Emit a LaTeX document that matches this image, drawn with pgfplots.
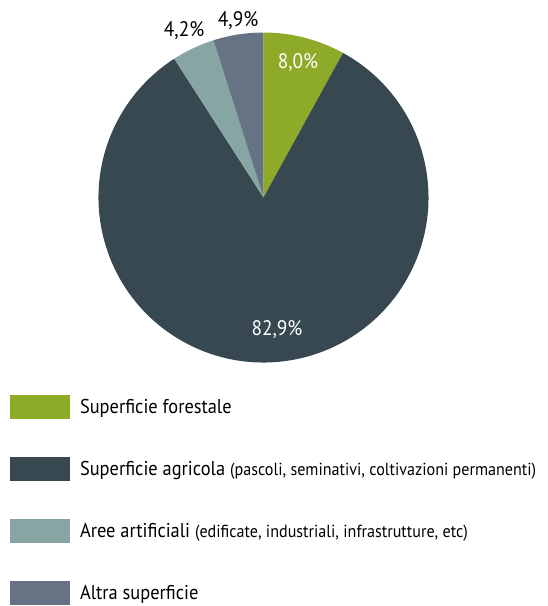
\documentclass[border=0pt]{standalone}
\usepackage{pgfplots}
\pgfplotsset{compat=1.18}
\usepackage{fontspec}
\setmainfont{PT Sans}[FakeStretch=0.92]

\definecolor{forest}{RGB}{141,170,40}
\definecolor{agri}{RGB}{55,72,80}
\definecolor{artif}{RGB}{134,165,163}
\definecolor{altra}{RGB}{102,115,133}

\newcommand{\bigf}{\fontsize{20}{24}\selectfont}
\newcommand{\pctf}{\fontsize{21}{24}\selectfont}
\newcommand{\smf}{\fontsize{17.5}{20}\selectfont}

\begin{document}
\begin{tikzpicture}
\useasboundingbox (-98.5pt,-243.5pt) rectangle (449.5pt,362.5pt);
\begin{axis}[
  scale only axis,
  width=330pt, height=330pt,
  xmin=-1, xmax=1, ymin=-1, ymax=1,
  hide axis, clip=false,
  data cs=polar,
  legend image code/.code={\fill[#1] (0pt,-12pt) rectangle (60pt,12pt);},
  legend cell align=left,
  legend style={draw=none, fill=none, inner sep=0pt, outer sep=0pt,
    at={(-0.268,-0.0985)}, anchor=north west,
    row sep=38pt, column sep=10pt,
    font=\bigf, nodes={inner sep=0pt}},
]
% shares (%): 8.0, 82.9, 4.2, 4.9 -> angles = share * 3.6, clockwise from 90
\addplot[fill=forest, draw=none] coordinates {(0,0) (90,1)}
  arc[start angle=90, delta angle=-28.8, radius=165pt] -- cycle;
\addplot[fill=agri, draw=none] coordinates {(0,0) (61.2,1)}
  arc[start angle=61.2, delta angle=-298.44, radius=165pt] -- cycle;
\addplot[fill=artif, draw=none] coordinates {(0,0) (122.76,1)}
  arc[start angle=122.76, delta angle=-15.12, radius=165pt] -- cycle;
\addplot[fill=altra, draw=none] coordinates {(0,0) (107.64,1)}
  arc[start angle=107.64, delta angle=-17.64, radius=165pt] -- cycle;

\addplot[forget plot, draw=none, mark=none, nodes near coords,
  point meta=explicit symbolic,
  every node near coord/.append style={anchor=center, text=white, font=\pctf}]
  coordinates {(75.7,0.847) [8{,}0\%] (275.8,0.807) [82{,}9\%]};
\addplot[forget plot, draw=none, mark=none, nodes near coords,
  point meta=explicit symbolic,
  every node near coord/.append style={anchor=center, text=black, font=\pctf}]
  coordinates {(115.5,1.118) [4{,}2\%] (98.2,1.081) [4{,}9\%]};

\legend{Superficie forestale,
  {Superficie agricola {\smf(pascoli, seminativi, coltivazioni permanenti)}},
  {Aree artificiali {\smf(edificate, industriali, infrastrutture, etc)}},
  Altra superficie}
\end{axis}
\end{tikzpicture}
\end{document}
